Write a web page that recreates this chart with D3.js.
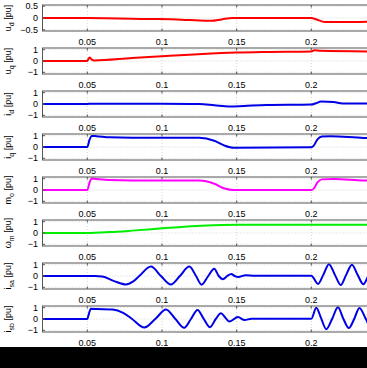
<!DOCTYPE html>
<html>
<head>
<meta charset="utf-8">
<script src="https://cdn.jsdelivr.net/npm/d3@7"></script>
<style>
  body { margin: 0; background: #fff; }
  text { font-family: "Liberation Sans", Arial, sans-serif; font-size: 9px; fill: #000; }
</style>
</head>
<body>
<div id="chart"></div>
<script>
// time axis ticks (0.25 sits past the right edge of the picture)
const xTicks = [0.05, 0.1, 0.15, 0.2, 0.25];
const xTickLabels = ["0.05", "0.1", "0.15", "0.2"];

// traces, [t, value] in pu
const ud = [[0.02,0],[0.05,0],[0.09,-0.04],[0.113,-0.07],[0.125,-0.11],[0.133,-0.12],[0.14,-0.06],[0.147,0],[0.2,0],[0.203,-0.05],[0.209,-0.17],[0.22,-0.17],[0.25,-0.14]];
const uq = [[0.02,0],[0.05,0],[0.0505,0.12],[0.0515,0.3],[0.053,0.12],[0.0545,0.05],[0.08,0.27],[0.1,0.42],[0.115,0.54],[0.13,0.65],[0.15,0.75],[0.17,0.8],[0.2,0.84],[0.202,0.95],[0.206,0.9],[0.25,0.84]];
const id = [[0.02,0],[0.05,0],[0.052,0.03],[0.1,0.02],[0.125,0],[0.135,-0.11],[0.145,-0.22],[0.155,-0.17],[0.17,-0.09],[0.2,-0.05],[0.203,0.06],[0.2065,0.22],[0.215,0.17],[0.221,0.04],[0.25,0.04]];
const iq = [[0.02,0],[0.05,0],[0.0515,0.65],[0.053,0.98],[0.056,0.96],[0.065,0.86],[0.08,0.82],[0.125,0.81],[0.135,0.55],[0.142,0.12],[0.148,-0.06],[0.2,-0.03],[0.2015,0.1],[0.204,0.65],[0.207,0.92],[0.213,0.96],[0.235,0.8],[0.25,0.78]];
const mo = [[0.02,0],[0.05,0],[0.0515,0.65],[0.053,1.02],[0.056,0.98],[0.065,0.88],[0.08,0.84],[0.125,0.83],[0.135,0.55],[0.142,0.13],[0.148,0],[0.2,0],[0.2015,0.1],[0.204,0.65],[0.207,0.94],[0.215,0.97],[0.235,0.84],[0.25,0.82]];
const wm = [[0.02,0],[0.05,0],[0.065,0.08],[0.08,0.21],[0.1,0.41],[0.115,0.56],[0.13,0.67],[0.14,0.71],[0.15,0.73],[0.2,0.74],[0.25,0.74]];
const isa = [[0.02,0],[0.055,0],[0.06,-0.05],[0.068,-0.45],[0.0759,-0.75],[0.0805,-0.5],[0.0848,0],[0.0926,0.83],[0.0993,0],[0.106,-0.75],[0.112,0],[0.1183,0.83],[0.1228,0],[0.1265,-0.77],[0.131,0],[0.135,0.65],[0.138,0],[0.1408,-0.28],[0.1437,0],[0.1464,0.17],[0.1487,0],[0.151,-0.09],[0.156,0.06],[0.162,0.02],[0.18,0.03],[0.2,0.03],[0.2045,-0.7],[0.208,0.1],[0.2118,1.05],[0.2158,0.1],[0.2197,-0.8],[0.2233,0.1],[0.2272,1.0],[0.231,0.1],[0.2348,-0.72],[0.2385,0.1],[0.2425,0.95],[0.2462,0.1],[0.25,-0.7]];
const isb = [[0.02,0],[0.05,0],[0.0505,0.2],[0.0524,0.9],[0.056,0.88],[0.067,0.84],[0.074,0.55],[0.08,0],[0.0882,-0.75],[0.0955,0],[0.1027,0.84],[0.109,0],[0.1149,-0.78],[0.1194,0],[0.1238,0.79],[0.128,0],[0.1321,-0.73],[0.136,0],[0.1395,0.5],[0.1425,0.1],[0.1452,-0.22],[0.1509,0.17],[0.1553,-0.09],[0.16,0.02],[0.2,0.02],[0.2033,1.0],[0.2066,0.05],[0.21,-0.9],[0.2139,0],[0.2178,1.04],[0.2215,0],[0.2251,-0.8],[0.2287,0],[0.2322,0.98],[0.2365,0],[0.24,-0.78],[0.2435,0],[0.247,0.95],[0.25,0.3]];

const panels = [
  { sym: "u", sub: "d",  data: ud,  color: "#ff0000", lim: 0.55, ticks: [-0.5, 0, 0.5] },
  { sym: "u", sub: "q",  data: uq,  color: "#ff0000", lim: 1.15, ticks: [-1, 0, 1] },
  { sym: "i", sub: "d",  data: id,  color: "#0000e6", lim: 1.15, ticks: [-1, 0, 1] },
  { sym: "i", sub: "q",  data: iq,  color: "#0000e6", lim: 1.15, ticks: [-1, 0, 1] },
  { sym: "m", sub: "o",  data: mo,  color: "#ff00ff", lim: 1.15, ticks: [-1, 0, 1] },
  { sym: "\u03c9", sub: "m", data: wm, color: "#00ee00", lim: 1.15, ticks: [-1, 0, 1] },
  { sym: "i", sub: "sa", data: isa, color: "#0000e6", lim: 1.15, ticks: [-1, 0, 1] },
  { sym: "i", sub: "sb", data: isb, color: "#0000e6", lim: 1.15, ticks: [-1, 0, 1] }
];

const width = 367, height = 368;
const top0 = 5, step = 43, ph = 26;

const svg = d3.select("#chart").append("svg")
  .attr("width", width)
  .attr("height", height);

svg.append("rect").attr("width", width).attr("height", height).attr("fill", "#fff");
// black strip at the bottom of the picture
svg.append("rect").attr("x", 0).attr("y", 347).attr("width", width).attr("height", height - 347).attr("fill", "#000");

const x = d3.scaleLinear().domain([0.02, 0.25]).range([42.5, 386]);
const fmt = v => String(v).replace("-", "\u2212");

svg.append("clipPath").attr("id", "clip")
  .append("rect").attr("x", 42.5).attr("y", -200).attr("width", width).attr("height", 800);

panels.forEach((p, k) => {
  const y0 = top0 + step * k;
  const y = d3.scaleLinear().domain([-p.lim, p.lim]).range([y0 + ph, y0]);
  const g = svg.append("g");

  // dotted grid
  g.selectAll(".gx").data(xTicks).enter().append("line")
    .attr("x1", d => x(d)).attr("x2", d => x(d))
    .attr("y1", y0).attr("y2", y0 + ph)
    .attr("stroke", "#b8b8b8").attr("stroke-width", 0.6).attr("stroke-dasharray", "1,2");
  g.selectAll(".gy").data(p.ticks).enter().append("line")
    .attr("x1", x.range()[0]).attr("x2", width)
    .attr("y1", d => y(d)).attr("y2", d => y(d))
    .attr("stroke", "#b8b8b8").attr("stroke-width", 0.6).attr("stroke-dasharray", "1,2");

  // trace
  const line = d3.line()
    .x(d => x(d[0]))
    .y(d => y(d[1]))
    .curve(d3.curveMonotoneX);
  g.append("path")
    .datum(p.data)
    .attr("clip-path", "url(#clip)")
    .attr("d", line)
    .attr("fill", "none")
    .attr("stroke", p.color)
    .attr("stroke-width", 2)
    .attr("stroke-linejoin", "round");

  // box
  g.append("rect")
    .attr("x", x.range()[0]).attr("y", y0)
    .attr("width", x(0.25) - x.range()[0]).attr("height", ph)
    .attr("fill", "none").attr("stroke", "#555").attr("stroke-width", 1);

  // ticks (inside)
  g.selectAll(".tx").data(xTicks).enter().append("path")
    .attr("d", d => `M${x(d)},${y0 + ph}v-2.5M${x(d)},${y0}v2.5`)
    .attr("stroke", "#555");
  g.selectAll(".ty").data(p.ticks).enter().append("path")
    .attr("d", d => `M${x.range()[0]},${y(d)}h2.5`)
    .attr("stroke", "#555");

  // tick labels
  g.selectAll(".lx").data(xTickLabels).enter().append("text")
    .attr("x", d => x(+d)).attr("y", y0 + ph + 14)
    .attr("text-anchor", "middle")
    .text(d => d);
  g.selectAll(".ly").data(p.ticks).enter().append("text")
    .attr("x", 38).attr("y", d => y(d)).attr("dy", "0.35em")
    .attr("text-anchor", "end")
    .text(d => fmt(d));

  // rotated axis label with subscript
  const lab = g.append("text")
    .attr("transform", `translate(10.5,${y0 + ph / 2}) rotate(-90)`)
    .attr("text-anchor", "middle");
  lab.append("tspan").text(p.sym);
  lab.append("tspan").attr("dy", 3).style("font-size", "7px").text(p.sub);
  lab.append("tspan").attr("dy", -3).text(" [pu]");
});
</script>
</body>
</html>
